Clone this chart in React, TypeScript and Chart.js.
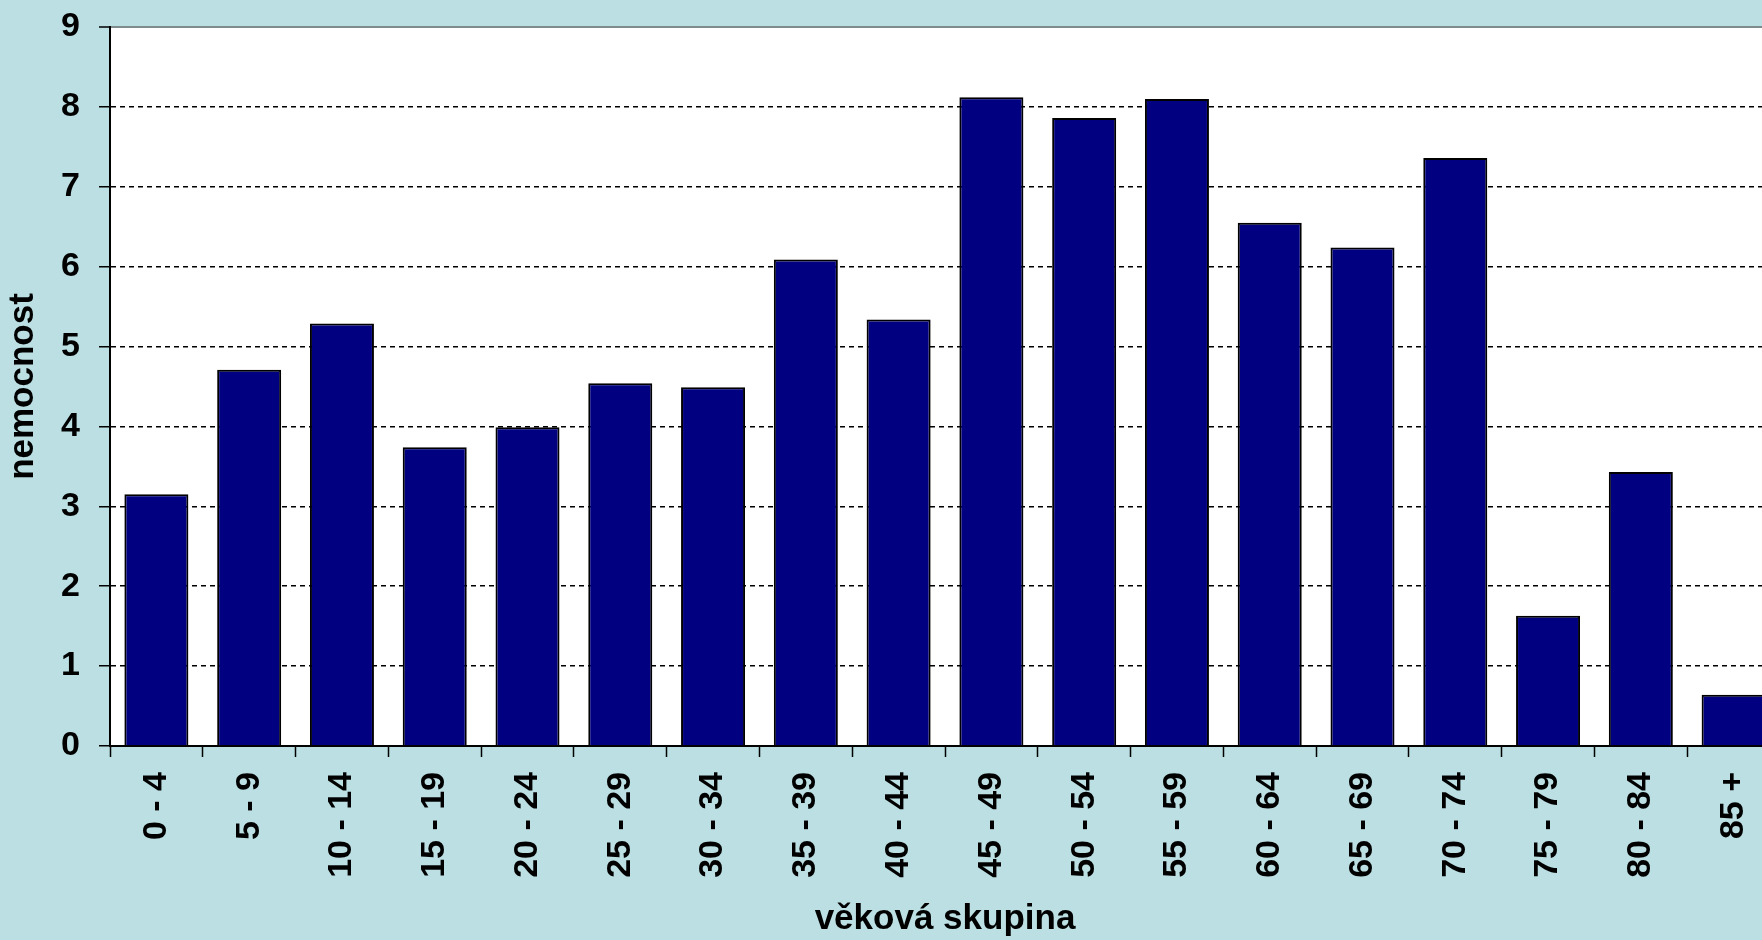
import React, { useEffect, useRef } from "react";
import { Chart, registerables } from "chart.js";

Chart.register(...registerables);

const categories: string[] = [
  "0 - 4", "5 - 9", "10 - 14", "15 - 19", "20 - 24", "25 - 29", "30 - 34", "35 - 39", "40 - 44",
  "45 - 49", "50 - 54", "55 - 59", "60 - 64", "65 - 69", "70 - 74", "75 - 79", "80 - 84", "85 +",
];
const nemocnost: number[] = [
  3.15, 4.71, 5.29, 3.74, 3.99, 4.54, 4.49, 6.09, 5.34,
  8.12, 7.86, 8.1, 6.55, 6.24, 7.36, 1.63, 3.43, 0.64,
];
const yMin = 0;
const yMax = 9;
const yStep = 1;
const xTitle = "věková skupina";
const yTitle = "nemocnost";

const BG = "#BBDFE3";
const FONT = "'Liberation Sans', Arial, sans-serif";

const bgPlugin = {
  id: "bgPlugin",
  beforeDraw(chart: any) {
    const { ctx, chartArea } = chart;
    ctx.save();
    ctx.fillStyle = BG;
    ctx.fillRect(0, 0, chart.width, chart.height);
    ctx.fillStyle = "#ffffff";
    ctx.fillRect(chartArea.left, chartArea.top, chartArea.right - chartArea.left, chartArea.bottom - chartArea.top);
    ctx.restore();
  },
};

export default function App() {
  const ref = useRef<HTMLCanvasElement | null>(null);

  useEffect(() => {
    document.body.style.margin = "0";
    document.body.style.overflow = "hidden";
    const canvas = ref.current!;
    const chart = new Chart(canvas, {
      type: "bar",
      data: {
        labels: categories,
        datasets: [
          {
            data: nemocnost,
            backgroundColor: "#000080",
            borderColor: "#000000",
            borderWidth: 2,
            categoryPercentage: 1,
            barPercentage: 0.69,
          },
        ],
      },
      plugins: [bgPlugin],
      options: {
        animation: false,
        responsive: false,
        devicePixelRatio: 1,
        layout: { padding: { top: 27, right: 0, bottom: 0, left: 0 } },
        plugins: {
          legend: { display: false },
          tooltip: { enabled: false },
        },
        scales: {
          x: {
            afterFit(scale: any) {
              scale.height = 194;
              scale.paddingLeft = 0;
              scale.paddingRight = 0;
            },
            grid: {
              offset: true,
              drawOnChartArea: false,
              drawTicks: true,
              tickLength: 11,
              tickColor: "#000",
              tickWidth: 1.5,
            },
            border: { display: true, color: "#000", width: 2 },
            ticks: {
              autoSkip: false,
              maxRotation: 90,
              minRotation: 90,
              padding: 15,
              color: "#000",
              font: { family: FONT, size: 34, weight: "bold" },
            },
            title: {
              display: true,
              text: xTitle,
              color: "#000",
              padding: { top: 0, bottom: 0 },
              font: { family: FONT, size: 35, weight: "bold" },
            },
          },
          y: {
            min: yMin,
            max: yMax,
            afterFit(scale: any) {
              scale.width = 110;
              scale.paddingTop = 0;
              scale.paddingBottom = 0;
            },
            grid: {
              drawTicks: true,
              tickLength: 11,
              tickColor: "#000",
              tickWidth: 1.5,
              lineWidth: (ctx: any) => (ctx.tick && ctx.tick.value === yMax ? 2 : 1.5),
              color: (ctx: any) => {
                const v = ctx.tick ? ctx.tick.value : null;
                if (v === yMin) return "rgba(0,0,0,0)";
                if (v === yMax) return "#7F8A8C";
                return "#000";
              },
            },
            border: {
              display: true,
              color: "#000",
              width: 2,
              dash: (ctx: any) => {
                const v = ctx.tick ? ctx.tick.value : null;
                return v === yMax ? [] : [5, 4];
              },
            },
            ticks: {
              stepSize: yStep,
              padding: 19,
              color: "#000",
              font: { family: FONT, size: 34, weight: "bold" },
            },
            title: {
              display: true,
              text: yTitle,
              color: "#000",
              padding: { top: 2, bottom: 0 },
              font: { family: FONT, size: 35, weight: "bold" },
            },
          },
        },
      },
    } as any);
    return () => chart.destroy();
  }, []);

  return (
    <div style={{ position: "absolute", left: 0, top: 0, width: 1762, height: 940, overflow: "hidden", background: BG }}>
      <canvas ref={ref} width={1780} height={940} style={{ display: "block", width: 1780, height: 940 }} />
    </div>
  );
}
